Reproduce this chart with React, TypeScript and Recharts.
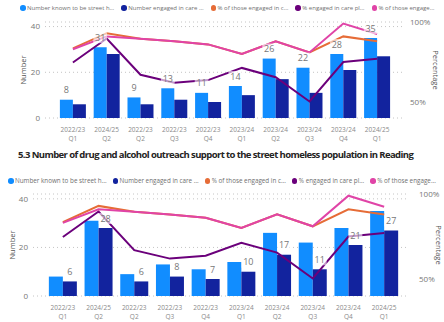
import React from "react";
import { ComposedChart, Bar, Line, XAxis, YAxis, CartesianGrid, LabelList } from "recharts";

const quarters = [
  "2022/23 Q1", "2024/25 Q2", "2022/23 Q2", "2022/23 Q3", "2022/23 Q4",
  "2023/24 Q1", "2023/24 Q2", "2023/24 Q3", "2023/24 Q4", "2024/25 Q1",
];
const knownStreetHomeless = [8, 31, 9, 13, 11, 14, 26, 22, 28, 35];
const engagedInCare = [6, 28, 6, 8, 7, 10, 17, 11, 21, 27];
const pctEngagedInCare = [83.5, 93, 89.5, 88, 86, 80, 88, 81, 91, 88];
const pctCarePlan = [74.7, 89.7, 67, 62, 63.7, 71.3, 65.5, 50.3, 75, 77];
const pctOfThoseEngaged = [83, 91, 89.5, 88, 86, 80, 88, 81, 99, 92.5];

const legendLabels = [
  "Number known to be street h…",
  "Number engaged in care …",
  "% of those engaged in c…",
  "% engaged in care pl…",
  "% of those engage…",
];
const seriesColors = ["#118DFF", "#12239E", "#E66C37", "#6B007B", "#E044A7"];
const numberTicks = [0, 20, 40];
const percentTicks = [50, 100];

const rows = quarters.map((q, i) => ({
  q,
  known: knownStreetHomeless[i],
  engaged: engagedInCare[i],
  pctEngaged: pctEngagedInCare[i],
  pctPlan: pctCarePlan[i],
  pctOfEngaged: pctOfThoseEngaged[i],
}));

const font = "'Segoe UI', 'Open Sans', sans-serif";

function QuarterTick({ x, y, payload, dy1, dy2 }: any) {
  const [yr, qt] = String(payload.value).split(" ");
  return (
    <g fontFamily={font} fontSize={6.5} fill="#8a8a8a">
      <text x={x} y={y + dy1} textAnchor="middle">{yr}</text>
      <text x={x} y={y + dy2} textAnchor="middle">{qt}</text>
    </g>
  );
}

// rotated axis title; Label passes its own angle/x props so use other names
function AxisTitle({ viewBox, text, px, rot }: any) {
  const cy = viewBox.y + viewBox.height / 2;
  return (
    <text x={px} y={cy} transform={`rotate(${rot} ${px} ${cy})`} textAnchor="middle"
      dominantBaseline="central" fontSize={7.5} fill="#555" fontFamily={font}>
      {text}
    </text>
  );
}

// label drawn from an invisible line so it sits above the other lines
function ValueLabel({ x, y, value, dx }: any) {
  const cx = x + dx;
  const w = String(value).length * 5.4 + 3;
  return (
    <g>
      <rect x={cx - w / 2} y={y - 15} width={w} height={11} fill="#fff" fillOpacity={0.6} />
      <text x={cx} y={y - 6.5} textAnchor="middle" fontSize={9} fill="#777" fontFamily={font}>{value}</text>
    </g>
  );
}

function LegendRow({ top, left, fontSize, gap }: any) {
  return (
    <div style={{ position: "absolute", top, left, display: "flex", alignItems: "center", gap,
      fontSize, color: "#707070", whiteSpace: "nowrap", fontFamily: font, lineHeight: 1 }}>
      {legendLabels.map((t, i) => (
        <span key={t} style={{ display: "flex", alignItems: "center" }}>
          <span style={{ width: 5.5, height: 5.5, borderRadius: "50%", background: seriesColors[i], marginRight: 1.5 }} />
          {t}
        </span>
      ))}
    </div>
  );
}

function Panel({ height, top, axisH, leftW, rightW, pad, labelKey, labelDx, gap, dy1, dy2, numX, pctX, pctMargin }: any) {
  return (
    <ComposedChart width={444} height={height} data={rows} margin={{ top, right: 0, bottom: 0, left: 0 }}
      barGap={0} barCategoryGap={gap}>
      <CartesianGrid yAxisId="left" vertical={false} strokeDasharray="1 3" stroke="#c4c4c4" />
      <XAxis dataKey="q" height={axisH} padding={pad}
        axisLine={false} tickLine={false} tickSize={0} tickMargin={0} interval={0}
        tick={<QuarterTick dy1={dy1} dy2={dy2} />} />
      <YAxis yAxisId="left" width={leftW} domain={[0, 42]} ticks={numberTicks} axisLine={false}
        tickLine={false} tickSize={0} tickMargin={5} tick={{ fontSize: 8, fill: "#777", fontFamily: font }}
        label={<AxisTitle text="Number" px={numX} rot={-90} />} />
      <YAxis yAxisId="right" orientation="right" width={rightW} domain={[40, 100]} ticks={percentTicks}
        tickFormatter={(v: number) => `${v}%`} axisLine={false} tickLine={false} tickSize={0}
        tickMargin={pctMargin} tick={{ fontSize: 8, fill: "#777", fontFamily: font }}
        label={<AxisTitle text="Percentage" px={pctX} rot={90} />} />
      <Bar yAxisId="left" dataKey="known" fill={seriesColors[0]} isAnimationActive={false} />
      <Bar yAxisId="left" dataKey="engaged" fill={seriesColors[1]} isAnimationActive={false} />
      <Line yAxisId="right" dataKey="pctEngaged" stroke={seriesColors[2]} strokeWidth={2} dot={false}
        activeDot={false} isAnimationActive={false} />
      <Line yAxisId="right" dataKey="pctPlan" stroke={seriesColors[3]} strokeWidth={2} dot={false}
        activeDot={false} isAnimationActive={false} />
      <Line yAxisId="right" dataKey="pctOfEngaged" stroke={seriesColors[4]} strokeWidth={2} dot={false}
        activeDot={false} isAnimationActive={false} />
      <Line yAxisId="left" dataKey={labelKey} stroke="none" dot={false} activeDot={false}
        isAnimationActive={false} legendType="none">
        <LabelList dataKey={labelKey} content={<ValueLabel dx={labelDx} />} />
      </Line>
    </ComposedChart>
  );
}

export default function App() {
  return (
    <div style={{ position: "relative", width: 444, height: 322, overflow: "hidden", background: "#fff" }}>
      <style>{`body{margin:0}`}</style>
      <LegendRow top={5} left={20} fontSize={6} gap={7} />
      <div style={{ position: "absolute", top: 0, left: 0 }}>
        <Panel height={145} top={22} axisH={27} leftW={45} rightW={42} pad={{ left: 11, right: 8 }}
          labelKey="known" labelDx={-6.5} gap="11.5%" dy1={14} dy2={22.5} numX={23} pctX={436} pctMargin={8} />
      </div>
      <div style={{ position: "absolute", top: 148, left: 18, fontFamily: font, fontWeight: 700,
        fontSize: 9.5, letterSpacing: -0.6, color: "#252423", whiteSpace: "nowrap", lineHeight: "14px" }}>
        5.3 Number of drug and alcohol outreach support to the street homeless population in Reading
      </div>
      <LegendRow top={178} left={8} fontSize={6.3} gap={6} />
      <div style={{ position: "absolute", top: 168, left: 0 }}>
        <Panel height={154} top={26} axisH={26} leftW={33} rightW={37} pad={{ left: 12, right: 5 }}
          labelKey="engaged" labelDx={7} gap="10.8%" dy1={14} dy2={23} numX={12} pctX={439} pctMargin={12} />
      </div>
    </div>
  );
}
